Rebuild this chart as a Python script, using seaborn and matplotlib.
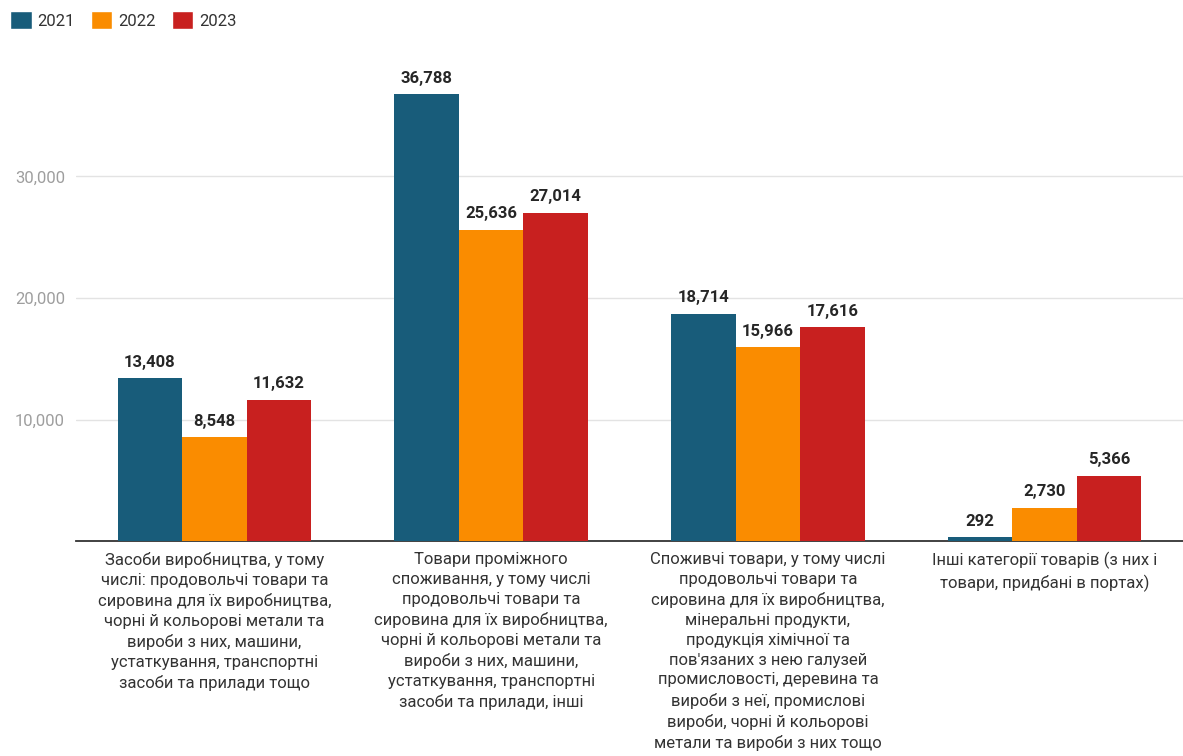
"""
Grouped bar chart: goods categories by year (2021-2023)
"""

## Import packages
import pandas as pd
import matplotlib.pyplot as plt
import seaborn as sns
from matplotlib.patches import Patch


## Prepare data
categories = [
    'Засоби виробництва, у тому\nчислі: продовольчі товари та\nсировина для їх виробництва,\n'
    'чорні й кольорові метали та\nвироби з них, машини,\nустаткування, транспортні\nзасоби та прилади тощо',
    'Товари проміжного\nспоживання, у тому числі\nпродовольчі товари та\nсировина для їх виробництва,\n'
    'чорні й кольорові метали та\nвироби з них, машини,\nустаткування, транспортні\nзасоби та прилади, інші',
    'Споживчі товари, у тому числі\nпродовольчі товари та\nсировина для їх виробництва,\n'
    'мінеральні продукти,\nпродукція хімічної та\nпов\'язаних з нею галузей\nпромисловості, деревина та\n'
    'вироби з неї, промислові\nвироби, чорні й кольорові\nметали та вироби з них тощо',
    'Інші категорії товарів (з них і\nтовари, придбані в портах)',
]
years = ['2021', '2022', '2023']
values_2021 = [13408, 36788, 18714, 292]
values_2022 = [8548, 25636, 15966, 2730]
values_2023 = [11632, 27014, 17616, 5366]

df = pd.DataFrame({
    'category': categories * 3,
    'year': [y for y in years for _ in categories],
    'value': values_2021 + values_2022 + values_2023,
})

colors = ['#185c7a', '#fa8c00', '#c8201f']


## Plot data using seaborn module
sns.set_theme(style='white')
plt.rcParams['font.family'] = ['Roboto', 'DejaVu Sans']

fig = plt.figure(figsize=(11.83, 7.56), dpi=100)
ax = fig.add_axes([76 / 1183, 215 / 756, 1 - 76 / 1183, (541 - 55) / 756])

sns.barplot(data=df, x='category', y='value', hue='year', palette=colors,
            width=0.7, linewidth=0, saturation=1, legend=False, ax=ax, zorder=3)

# Value labels
for container in ax.containers:
    ax.bar_label(container, labels=[f'{v:,.0f}' for v in container.datavalues],
                 padding=6, fontsize=12, fontweight='bold', color='#262626')

# Axes configuration
ax.set_ylim(0, 40000)
ax.set_xlim(-0.5, 3.5)
ax.set_yticks([10000, 20000, 30000])
ax.set_yticklabels(['10,000', '20,000', '30,000'])
ax.yaxis.grid(True, color='#e3e3e3', linewidth=1, zorder=0)
ax.tick_params(axis='y', labelsize=12, labelcolor='#9e9e9e', length=0, pad=8)
ax.tick_params(axis='x', labelsize=12, labelcolor='#333333', length=0, pad=8)
for label in ax.get_xticklabels():
    label.set_linespacing(1.4)
ax.set_xlabel('')
ax.set_ylabel('')
for side in ['top', 'right', 'left']:
    ax.spines[side].set_visible(False)
ax.spines['bottom'].set_color('#333333')
ax.spines['bottom'].set_linewidth(1.3)

# Legend
legend_elements = [Patch(facecolor=c, label=y) for c, y in zip(colors, years)]
fig.legend(handles=legend_elements, loc='upper left', bbox_to_anchor=(10 / 1183, 1 - 11 / 756),
           ncol=3, frameon=False, fontsize=12, handlelength=1.3, handleheight=1.3,
           handletextpad=0.35, columnspacing=0.95, borderpad=0, borderaxespad=0,
           labelcolor='#333333')

plt.savefig('out.png', dpi=100)
